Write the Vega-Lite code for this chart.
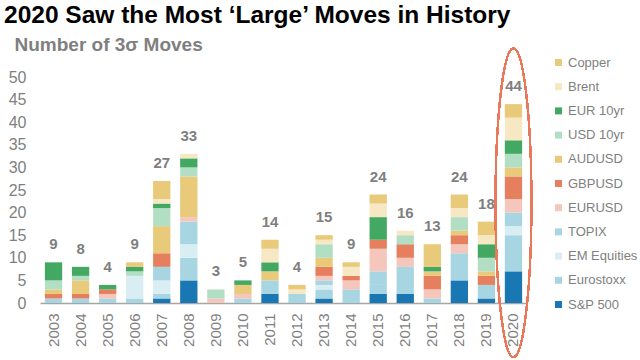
{
  "$schema": "https://vega.github.io/schema/vega-lite/v6.json",
  "autosize": "none",
  "width": 487,
  "height": 226,
  "padding": {"left": 40, "top": 77, "right": 113, "bottom": 57},
  "background": "white",
  "config": {"view": {"stroke": null}, "font": "Liberation Sans"},
  "title": {
    "text": "2020 Saw the Most ‘Large’ Moves in History",
    "anchor": "start",
    "frame": "group",
    "dx": -36,
    "offset": 7,
    "fontSize": 24.5,
    "fontWeight": "bold",
    "font": "Liberation Sans",
    "color": "#000000"
  },
  "data": {
    "values": [
      {"year": "2003", "s": "Eurostoxx", "v": 1}, {"year": "2003", "s": "GBPUSD", "v": 1}, {"year": "2003", "s": "AUDUSD", "v": 1}, {"year": "2003", "s": "USD 10yr", "v": 2}, {"year": "2003", "s": "EUR 10yr", "v": 4},
      {"year": "2004", "s": "Eurostoxx", "v": 1}, {"year": "2004", "s": "GBPUSD", "v": 1}, {"year": "2004", "s": "AUDUSD", "v": 3}, {"year": "2004", "s": "USD 10yr", "v": 1}, {"year": "2004", "s": "EUR 10yr", "v": 2},
      {"year": "2005", "s": "Eurostoxx", "v": 1}, {"year": "2005", "s": "EURUSD", "v": 1}, {"year": "2005", "s": "GBPUSD", "v": 1}, {"year": "2005", "s": "EUR 10yr", "v": 1},
      {"year": "2006", "s": "Eurostoxx", "v": 1}, {"year": "2006", "s": "EM Equities", "v": 5}, {"year": "2006", "s": "USD 10yr", "v": 1}, {"year": "2006", "s": "EUR 10yr", "v": 1}, {"year": "2006", "s": "Copper", "v": 1},
      {"year": "2007", "s": "S&P 500", "v": 1}, {"year": "2007", "s": "Eurostoxx", "v": 1}, {"year": "2007", "s": "EM Equities", "v": 3}, {"year": "2007", "s": "TOPIX", "v": 3}, {"year": "2007", "s": "GBPUSD", "v": 3}, {"year": "2007", "s": "AUDUSD", "v": 6}, {"year": "2007", "s": "USD 10yr", "v": 4}, {"year": "2007", "s": "EUR 10yr", "v": 1}, {"year": "2007", "s": "Brent", "v": 1}, {"year": "2007", "s": "Copper", "v": 4},
      {"year": "2008", "s": "S&P 500", "v": 5}, {"year": "2008", "s": "Eurostoxx", "v": 5}, {"year": "2008", "s": "EM Equities", "v": 3}, {"year": "2008", "s": "TOPIX", "v": 5}, {"year": "2008", "s": "EURUSD", "v": 1}, {"year": "2008", "s": "AUDUSD", "v": 9}, {"year": "2008", "s": "USD 10yr", "v": 2}, {"year": "2008", "s": "EUR 10yr", "v": 2}, {"year": "2008", "s": "Brent", "v": 1},
      {"year": "2009", "s": "EURUSD", "v": 1}, {"year": "2009", "s": "USD 10yr", "v": 2},
      {"year": "2010", "s": "Eurostoxx", "v": 1}, {"year": "2010", "s": "EURUSD", "v": 1}, {"year": "2010", "s": "AUDUSD", "v": 2}, {"year": "2010", "s": "EUR 10yr", "v": 1},
      {"year": "2011", "s": "S&P 500", "v": 2}, {"year": "2011", "s": "Eurostoxx", "v": 3}, {"year": "2011", "s": "AUDUSD", "v": 2}, {"year": "2011", "s": "EUR 10yr", "v": 2}, {"year": "2011", "s": "Brent", "v": 3}, {"year": "2011", "s": "Copper", "v": 2},
      {"year": "2012", "s": "Eurostoxx", "v": 2}, {"year": "2012", "s": "Brent", "v": 1}, {"year": "2012", "s": "Copper", "v": 1},
      {"year": "2013", "s": "S&P 500", "v": 1}, {"year": "2013", "s": "Eurostoxx", "v": 2}, {"year": "2013", "s": "EM Equities", "v": 1}, {"year": "2013", "s": "TOPIX", "v": 1}, {"year": "2013", "s": "EURUSD", "v": 1}, {"year": "2013", "s": "GBPUSD", "v": 2}, {"year": "2013", "s": "AUDUSD", "v": 2}, {"year": "2013", "s": "USD 10yr", "v": 3}, {"year": "2013", "s": "Brent", "v": 1}, {"year": "2013", "s": "Copper", "v": 1},
      {"year": "2014", "s": "Eurostoxx", "v": 3}, {"year": "2014", "s": "EURUSD", "v": 2}, {"year": "2014", "s": "GBPUSD", "v": 1}, {"year": "2014", "s": "Brent", "v": 2}, {"year": "2014", "s": "Copper", "v": 1},
      {"year": "2015", "s": "S&P 500", "v": 2}, {"year": "2015", "s": "Eurostoxx", "v": 2}, {"year": "2015", "s": "TOPIX", "v": 3}, {"year": "2015", "s": "EURUSD", "v": 5}, {"year": "2015", "s": "GBPUSD", "v": 2}, {"year": "2015", "s": "EUR 10yr", "v": 5}, {"year": "2015", "s": "Brent", "v": 3}, {"year": "2015", "s": "Copper", "v": 2},
      {"year": "2016", "s": "S&P 500", "v": 2}, {"year": "2016", "s": "Eurostoxx", "v": 6}, {"year": "2016", "s": "EURUSD", "v": 2}, {"year": "2016", "s": "GBPUSD", "v": 3}, {"year": "2016", "s": "USD 10yr", "v": 2}, {"year": "2016", "s": "Brent", "v": 1},
      {"year": "2017", "s": "Eurostoxx", "v": 1}, {"year": "2017", "s": "EURUSD", "v": 2}, {"year": "2017", "s": "GBPUSD", "v": 3}, {"year": "2017", "s": "AUDUSD", "v": 1}, {"year": "2017", "s": "EUR 10yr", "v": 1}, {"year": "2017", "s": "Copper", "v": 5},
      {"year": "2018", "s": "S&P 500", "v": 5}, {"year": "2018", "s": "Eurostoxx", "v": 6}, {"year": "2018", "s": "EURUSD", "v": 2}, {"year": "2018", "s": "GBPUSD", "v": 2}, {"year": "2018", "s": "AUDUSD", "v": 1}, {"year": "2018", "s": "USD 10yr", "v": 3}, {"year": "2018", "s": "Brent", "v": 2}, {"year": "2018", "s": "Copper", "v": 3},
      {"year": "2019", "s": "S&P 500", "v": 1}, {"year": "2019", "s": "Eurostoxx", "v": 3}, {"year": "2019", "s": "GBPUSD", "v": 2}, {"year": "2019", "s": "AUDUSD", "v": 1}, {"year": "2019", "s": "USD 10yr", "v": 3}, {"year": "2019", "s": "EUR 10yr", "v": 3}, {"year": "2019", "s": "Brent", "v": 2}, {"year": "2019", "s": "Copper", "v": 3},
      {"year": "2020", "s": "S&P 500", "v": 7}, {"year": "2020", "s": "Eurostoxx", "v": 8}, {"year": "2020", "s": "EM Equities", "v": 2}, {"year": "2020", "s": "TOPIX", "v": 3}, {"year": "2020", "s": "EURUSD", "v": 3}, {"year": "2020", "s": "GBPUSD", "v": 5}, {"year": "2020", "s": "AUDUSD", "v": 2}, {"year": "2020", "s": "USD 10yr", "v": 3}, {"year": "2020", "s": "EUR 10yr", "v": 3}, {"year": "2020", "s": "Brent", "v": 5}, {"year": "2020", "s": "Copper", "v": 3}
    ]
  },
  "encoding": {
    "x": {
      "field": "year",
      "type": "nominal",
      "scale": {"paddingInner": 0.36, "paddingOuter": 0.18},
      "axis": {
        "title": null,
        "labelAngle": -90,
        "labelAlign": "right",
        "labelBaseline": "middle",
        "labelFontSize": 15,
        "labelColor": "#7f7f7f",
        "labelPadding": 10,
        "ticks": false,
        "domainColor": "#a6a6a6",
        "domainWidth": 1.5
      }
    }
  },
  "layer": [
    {
      "transform": [
        {"calculate": "10 - indexof(['Copper','Brent','EUR 10yr','USD 10yr','AUDUSD','GBPUSD','EURUSD','TOPIX','EM Equities','Eurostoxx','S&P 500'], datum.s)", "as": "ord"}
      ],
      "mark": {"type": "bar"},
      "encoding": {
        "y": {
          "aggregate": "sum",
          "field": "v",
          "type": "quantitative",
          "stack": "zero",
          "scale": {"domain": [0, 50], "nice": false},
          "axis": {
            "values": [0, 5, 10, 15, 20, 25, 30, 35, 40, 45, 50],
            "labelOverlap": false,
            "grid": false,
            "domain": false,
            "ticks": false,
            "labelFontSize": 16,
            "labelColor": "#7f7f7f",
            "labelPadding": 14,
            "title": "Number of 3σ Moves",
            "titleAngle": 0,
            "titleAlign": "left",
            "titleBaseline": "alphabetic",
            "titleX": -26,
            "titleY": -27,
            "titleFontSize": 19,
            "titleFontWeight": "bold",
            "titleColor": "#7f7f7f"
          }
        },
        "color": {
          "field": "s",
          "type": "nominal",
          "scale": {
            "domain": ["Copper", "Brent", "EUR 10yr", "USD 10yr", "AUDUSD", "GBPUSD", "EURUSD", "TOPIX", "EM Equities", "Eurostoxx", "S&P 500"],
            "range": ["#e9c97a", "#f7e8c4", "#43a862", "#b2dfc4", "#e9c97a", "#e67f5e", "#f4c6bc", "#a7d5e1", "#d9eef3", "#a7d5e1", "#1978b3"]
          },
          "legend": {
            "title": null,
            "orient": "none",
            "legendX": 512,
            "legendY": -21,
            "symbolType": "square",
            "symbolSize": 49,
            "symbolStrokeWidth": 0,
            "labelFontSize": 13,
            "labelColor": "#7f7f7f",
            "labelOffset": 3,
            "rowPadding": 10.2,
            "padding": 0
          }
        },
        "order": {"field": "ord", "type": "quantitative", "sort": "ascending"}
      }
    },
    {
      "mark": {"type": "text", "baseline": "alphabetic", "dy": -13, "fontSize": 15, "fontWeight": "bold", "color": "#7f7f7f"},
      "encoding": {
        "y": {
          "aggregate": "sum", "field": "v", "type": "quantitative",
          "axis": {
            "values": [0, 5, 10, 15, 20, 25, 30, 35, 40, 45, 50],
            "labelOverlap": false,
            "grid": false,
            "domain": false,
            "ticks": false,
            "labelFontSize": 16,
            "labelColor": "#7f7f7f",
            "labelPadding": 14,
            "title": "Number of 3σ Moves",
            "titleAngle": 0,
            "titleAlign": "left",
            "titleBaseline": "alphabetic",
            "titleX": -26,
            "titleY": -27,
            "titleFontSize": 19,
            "titleFontWeight": "bold",
            "titleColor": "#7f7f7f"
          }
        },
        "text": {"aggregate": "sum", "field": "v", "type": "quantitative"}
      }
    },
    {
      "mark": {
        "type": "point",
        "shape": "M0,-1A0.1165,1 0 1,1 0,1A0.1165,1 0 1,1 0,-1Z",
        "size": 95481,
        "filled": false,
        "stroke": "#e8795a",
        "strokeWidth": 1.5,
        "opacity": 1
      },
      "encoding": {
        "x": {"datum": "2020", "type": "nominal"},
        "y": {
          "datum": 22.2, "type": "quantitative",
          "axis": {
            "values": [0, 5, 10, 15, 20, 25, 30, 35, 40, 45, 50],
            "labelOverlap": false,
            "grid": false,
            "domain": false,
            "ticks": false,
            "labelFontSize": 16,
            "labelColor": "#7f7f7f",
            "labelPadding": 14,
            "title": "Number of 3σ Moves",
            "titleAngle": 0,
            "titleAlign": "left",
            "titleBaseline": "alphabetic",
            "titleX": -26,
            "titleY": -27,
            "titleFontSize": 19,
            "titleFontWeight": "bold",
            "titleColor": "#7f7f7f"
          }
        }
      }
    }
  ]
}
